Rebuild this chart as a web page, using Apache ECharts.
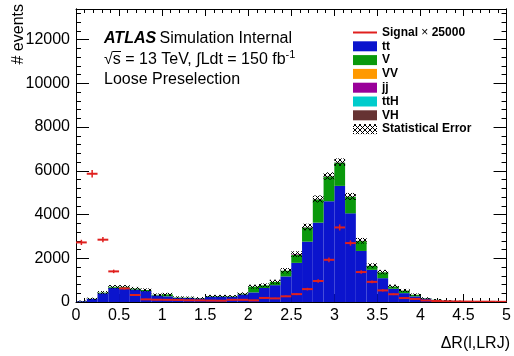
<!DOCTYPE html>
<html><head><meta charset="utf-8">
<script src="https://cdn.jsdelivr.net/npm/echarts@6/dist/echarts.min.js"></script>
<style>html,body{margin:0;padding:0;background:#fff}#c{width:514px;height:356px}</style>
</head><body><div id="c"></div>
<script>
// ---- data (40 bins of 0.125 in ΔR from 0 to 5) ----
const binEdgesLow = [0,0.125,0.25,0.375,0.5,0.625,0.75,0.875,1,1.125,1.25,1.375,1.5,1.625,1.75,1.875,2,2.125,2.25,2.375,2.5,2.625,2.75,2.875,3,3.125,3.25,3.375,3.5,3.625,3.75,3.875,4,4.125,4.25,4.375,4.5,4.625,4.75,4.875];
const binWidth = 0.125;
const ttVals  = [35,140,400,650,650,570,500,300,260,190,185,165,245,245,235,345,440,640,770,1170,1790,2760,3630,4610,5310,4055,2335,1470,1090,605,405,258,158,94,54,35,26,17,13,8];
const vVals   = [5,10,30,45,45,45,50,30,90,20,15,15,25,25,25,35,260,120,150,260,370,650,1060,1130,1060,755,450,180,270,100,115,72,18,9,4,3,2,2,1,1];
const vvVals  = [0,0,0,0,0,0,0,0,0,0,0,0,0,0,0,0,0,0,0,0,5,5,5,8,8,6,5,3,3,3,3,2,1,0,0,0,0,0,0,0];
const jjVals  = [0,0,0,0,0,0,0,0,0,0,0,0,0,0,0,0,0,0,0,0,25,10,10,10,10,6,5,3,3,3,3,1,1,0,0,0,0,0,0,0];
const ttHVals = [0,0,0,0,0,0,0,0,0,0,0,0,0,0,0,0,0,0,0,0,0,4,4,6,6,4,3,2,2,2,1,1,1,1,1,1,1,0,0,0];
const vhVals  = [0,0,0,0,0,0,0,0,0,0,0,0,0,0,0,0,0,0,0,0,0,1,1,2,2,2,2,1,1,1,1,1,1,1,1,1,1,1,0,0];
const statErr = [25,50,70,80,80,75,70,60,70,50,50,50,55,55,55,65,90,90,100,120,130,150,160,170,170,160,130,110,100,80,70,55,40,30,25,20,15,12,10,8];
const signalVals = [2725,5865,2850,1400,620,320,120,105,100,95,80,75,65,60,100,100,75,185,165,260,360,590,960,1930,3410,2695,1370,920,530,355,180,140,70,45,30,25,20,15,15,10];
const signalErr  = [120,170,120,80,55,40,25,25,25,25,20,20,20,20,25,25,20,30,30,35,45,60,80,110,140,120,80,60,50,40,30,25,20,15,10,10,8,8,8,6];
const xTickLabels = ['0','0.5','1','1.5','2','2.5','3','3.5','4','4.5','5'];
const yMax = 13400;

const FONT = '"Liberation Sans", Arial, Helvetica, sans-serif';
const components = [
  {name:'tt',  vals: ttVals,  color:'#0b14cd'},
  {name:'V',   vals: vVals,   color:'#0a990c'},
  {name:'VV',  vals: vvVals,  color:'#ff9900'},
  {name:'jj',  vals: jjVals,  color:'#990099'},
  {name:'ttH', vals: ttHVals, color:'#00cccc'},
  {name:'VH',  vals: vhVals,  color:'#663333'}
];

// hatch pattern for statistical error
const pc = document.createElement('canvas');
pc.width = 5; pc.height = 5;
const pctx = pc.getContext('2d');
pctx.strokeStyle = '#000'; pctx.lineWidth = 1;
pctx.beginPath(); pctx.moveTo(0,0); pctx.lineTo(5,5); pctx.moveTo(0,5); pctx.lineTo(5,0); pctx.stroke();
const hatch = {image: pc, repeat: 'repeat'};

function rectRender(fill){
  return function(params, api){
    const a = api.coord([api.value(0), api.value(2)]);
    const b = api.coord([api.value(1), api.value(3)]);
    return {type:'rect', shape:{x:a[0], y:Math.min(a[1],b[1]), width:b[0]-a[0], height:Math.abs(a[1]-b[1])}, style:{fill: fill}};
  };
}

const series = [];
const base = binEdgesLow.map(()=>0);
components.forEach(c => {
  const d = binEdgesLow.map((lo,i) => {
    const r = [lo, lo+binWidth, base[i], base[i]+c.vals[i]];
    base[i] += c.vals[i];
    return r;
  });
  series.push({type:'custom', name:c.name, renderItem: rectRender(c.color), data: d, clip: true, silent: true});
});
series.push({type:'custom', name:'Statistical Error', renderItem: rectRender(hatch),
  data: binEdgesLow.map((lo,i)=>[lo, lo+binWidth, base[i]-statErr[i], base[i]+statErr[i]]), clip:true, silent:true});
series.push({type:'custom', name:'Signal', clip:true, silent:true,
  data: binEdgesLow.map((lo,i)=>[lo, lo+binWidth, signalVals[i], signalErr[i]]),
  renderItem: function(params, api){
    const lo = api.value(0), hi = api.value(1), v = api.value(2), e = api.value(3);
    const a = api.coord([lo, v]), b = api.coord([hi, v]);
    const m = (lo+hi)/2;
    const t = api.coord([m, v+e]), u = api.coord([m, Math.max(0, v-e)]);
    const st = {stroke:'#e0201e', lineWidth:2};
    return {type:'group', children:[
      {type:'line', shape:{x1:a[0], y1:a[1], x2:b[0], y2:b[1]}, style:st},
      {type:'line', shape:{x1:t[0], y1:t[1], x2:u[0], y2:u[1]}, style:{stroke:'#e0201e', lineWidth:1.5}}
    ]};
  }});

const axisLine = {show:true, onZero:false, lineStyle:{color:'#000', width:1}};
function xAx(pos, labels, major, minor){
  return {type:'value', min:0, max:5, interval:0.5, position:pos,
    axisLine: axisLine,
    axisTick:{show:true, inside:true, length:major, lineStyle:{color:'#000'}},
    minorTick:{show:true, splitNumber:5, length:minor, lineStyle:{color:'#000'}},
    splitLine:{show:false}, minorSplitLine:{show:false},
    axisLabel: labels ? {show:true, margin:6, color:'#000', fontSize:16, fontFamily:FONT,
      formatter: v => xTickLabels[Math.round(v/0.5)] ?? ''} : {show:false}};
}
function yAx(pos, interval, len, labels){
  return {type:'value', min:0, max:yMax, interval:interval, position:pos,
    axisLine: axisLine,
    axisTick:{show:true, inside:true, length:len, lineStyle:{color:'#000'}},
    splitLine:{show:false},
    axisLabel: labels ? {show:true, margin:6, color:'#000', fontSize:16, fontFamily:FONT,
      formatter: v => (v % 2000 === 0 ? String(v) : '')} : {show:false}};
}

const legendItems = [
  {name:'Signal', label:'{b|Signal} {n|×} {b|25000}', kind:'line', color:'#e0201e'},
  {name:'tt', label:'{b|tt}', kind:'box', color:components[0].color},
  {name:'V', label:'{b|V}', kind:'box', color:components[1].color},
  {name:'VV', label:'{b|VV}', kind:'box', color:components[2].color},
  {name:'jj', label:'{b|jj}', kind:'box', color:components[3].color},
  {name:'ttH', label:'{b|ttH}', kind:'box', color:components[4].color},
  {name:'VH', label:'{b|VH}', kind:'box', color:components[5].color},
  {name:'Statistical Error', label:'{b|Statistical Error}', kind:'hatch'}
];
const graphic = [];
legendItems.forEach((it, i) => {
  const yc = 32.5 + i*13.8;
  if (it.kind === 'line') graphic.push({type:'line', shape:{x1:353, y1:yc, x2:377, y2:yc}, style:{stroke:it.color, lineWidth:2}});
  else if (it.kind === 'box') graphic.push({type:'rect', shape:{x:353, y:yc-5, width:24, height:10}, style:{fill:it.color}});
  else graphic.push({type:'rect', shape:{x:353, y:yc-5, width:24, height:10}, style:{fill:hatch}});
  graphic.push({type:'text', x:382, y:yc, style:{text:it.label, verticalAlign:'middle', align:'left',
    rich:{b:{fontFamily:FONT, fontWeight:'bold', fontSize:12, fill:'#000'}, n:{fontFamily:FONT, fontSize:12, fill:'#000'}}}});
});
graphic.push({type:'text', x:104, y:39, style:{text:'{a|ATLAS} {r|Simulation Internal}', verticalAlign:'middle',
  rich:{a:{fontFamily:FONT, fontWeight:'bold', fontStyle:'italic', fontSize:16, fill:'#000'}, r:{fontFamily:FONT, fontSize:16, fill:'#000'}}}});
graphic.push({type:'text', x:104, y:60, style:{text:'{r|√s = 13 TeV, ∫Ldt = 150 fb}{s|-1}', verticalAlign:'middle',
  rich:{r:{fontFamily:FONT, fontSize:16, fill:'#000'}, s:{fontFamily:FONT, fontSize:11, fill:'#000', verticalAlign:'top', padding:[0,0,10,0]}}}});
graphic.push({type:'line', shape:{x1:112.5, y1:51.5, x2:121, y2:51.5}, style:{stroke:'#000', lineWidth:1}});
graphic.push({type:'text', x:104, y:80, style:{text:'Loose Preselection', verticalAlign:'middle', fontFamily:FONT, fontSize:16, fill:'#000'}});
graphic.push({type:'text', x:19, y:4, rotation:Math.PI/2, style:{text:'# events', align:'right', verticalAlign:'middle', fontFamily:FONT, fontSize:16, fill:'#000'}});
graphic.push({type:'text', x:510, y:344, style:{text:'ΔR(l,LRJ)', align:'right', verticalAlign:'middle', fontFamily:FONT, fontSize:16, fill:'#000'}});

const chart = echarts.init(document.getElementById('c'), null, {renderer:'canvas'});
chart.setOption({
  animation:false,
  backgroundColor:'#fff',
  grid:{left:76, right:5, top:9, bottom:54, containLabel:false},
  xAxis:[xAx('bottom', true, 8, 4), xAx('top', false, 7, 4)],
  yAxis:[yAx('left', 2000, 13, true), yAx('left', 400, 5, false), yAx('right', 2000, 13, false), yAx('right', 400, 5, false)],
  series: series,
  graphic: graphic
});
</script></body></html>
